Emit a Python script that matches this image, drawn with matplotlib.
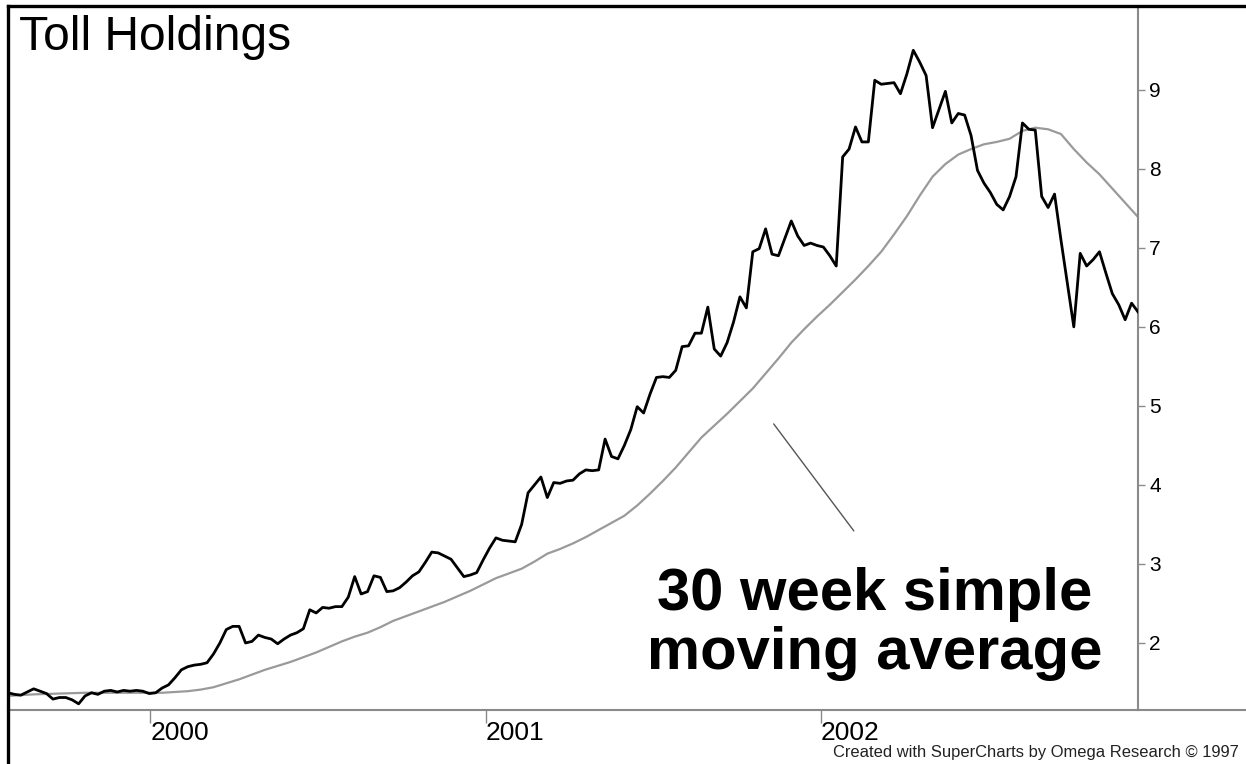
import matplotlib
matplotlib.use("Agg")
import matplotlib.pyplot as plt
import matplotlib.dates as mdates
from matplotlib.lines import Line2D
import pandas as pd

# ---------------- data ----------------
start_date = "1999-07-30"
price = [
    1.37, 1.35, 1.34, 1.38, 1.42, 1.39, 1.36, 1.29, 1.31, 1.31,
    1.28, 1.23, 1.33, 1.37, 1.35, 1.39, 1.40, 1.38, 1.40, 1.39,
    1.40, 1.39, 1.36, 1.37, 1.43, 1.47, 1.56, 1.66, 1.70, 1.72,
    1.73, 1.75, 1.86, 2.00, 2.17, 2.21, 2.21, 2.00, 2.02, 2.10,
    2.07, 2.05, 1.99, 2.05, 2.10, 2.13, 2.18, 2.42, 2.38, 2.45,
    2.44, 2.46, 2.46, 2.58, 2.84, 2.62, 2.65, 2.85, 2.83, 2.65,
    2.66, 2.70, 2.77, 2.85, 2.90, 3.02, 3.15, 3.14, 3.10, 3.06,
    2.95, 2.84, 2.86, 2.89, 3.05, 3.20, 3.33, 3.30, 3.29, 3.28,
    3.50, 3.90, 4.00, 4.10, 3.84, 4.03, 4.02, 4.05, 4.06, 4.14,
    4.19, 4.18, 4.19, 4.58, 4.36, 4.33, 4.50, 4.70, 4.99, 4.91,
    5.15, 5.36, 5.37, 5.36, 5.45, 5.75, 5.76, 5.92, 5.92, 6.25,
    5.72, 5.63, 5.80, 6.06, 6.38, 6.24, 6.95, 6.99, 7.24, 6.92,
    6.90, 7.12, 7.34, 7.15, 7.03, 7.06, 7.03, 7.01, 6.90, 6.77,
    8.15, 8.25, 8.53, 8.34, 8.34, 9.12, 9.07, 9.08, 9.09, 8.95,
    9.20, 9.50, 9.35, 9.18, 8.52, 8.75, 8.98, 8.58, 8.70, 8.68,
    8.42, 7.98, 7.82, 7.70, 7.55, 7.48, 7.65, 7.90, 8.58, 8.50,
    8.49, 7.65, 7.51, 7.68, 7.10, 6.55, 6.00, 6.93, 6.77, 6.85,
    6.95, 6.68, 6.42, 6.28, 6.09, 6.30, 6.19,
]
# 30-week simple moving average, read every 2 weeks
ma30 = [
    1.33, 1.34, 1.35, 1.355, 1.36, 1.365, 1.37, 1.37, 1.37, 1.37,
    1.37, 1.37, 1.37, 1.38, 1.39, 1.41, 1.44, 1.49, 1.54, 1.60,
    1.66, 1.71, 1.76, 1.82, 1.88, 1.95, 2.02, 2.08, 2.13, 2.20,
    2.28, 2.34, 2.40, 2.46, 2.52, 2.59, 2.66, 2.74, 2.82, 2.88,
    2.94, 3.03, 3.13, 3.19, 3.26, 3.34, 3.43, 3.52, 3.61, 3.74,
    3.89, 4.05, 4.22, 4.41, 4.60, 4.75, 4.90, 5.06, 5.22, 5.41,
    5.60, 5.80, 5.97, 6.13, 6.28, 6.44, 6.60, 6.77, 6.95, 7.17,
    7.40, 7.66, 7.90, 8.06, 8.18, 8.25, 8.31, 8.34, 8.38, 8.48,
    8.52, 8.50, 8.44, 8.25, 8.08, 7.93, 7.75, 7.57, 7.39,
]
year_ticks = ["2000-01-01", "2001-01-01", "2002-01-01"]
year_labels = ["2000", "2001", "2002"]
y_ticks = [2, 3, 4, 5, 6, 7, 8, 9]
title = "Toll Holdings"
note = "30 week simple\nmoving average"
footer = "Created with SuperCharts by Omega Research \u00a9 1997"

price_dates = pd.date_range(start_date, periods=len(price), freq="7D")
ma_dates = pd.date_range(start_date, periods=len(ma30), freq="14D")

# ---------------- figure ----------------
W, H = 1246, 764
fig = plt.figure(figsize=(W / 100, H / 100), dpi=100)
fig.patch.set_facecolor("white")

ax_l, ax_r, ax_t, ax_b = 8, 1138, 6, 710
ax = fig.add_axes([ax_l / W, 1 - ax_b / H, (ax_r - ax_l) / W, (ax_b - ax_t) / H])

ax.plot(ma_dates, ma30, color="#9a9a9a", lw=1.6, solid_joinstyle="round", zorder=2)
ax.plot(price_dates, price, color="black", lw=2.0, solid_joinstyle="round", zorder=3)

ax.set_xlim(price_dates[0], price_dates[-1])
ax.set_ylim(1.152, 10.06)

for s in ["top", "left"]:
    ax.spines[s].set_visible(False)
for s in ["right", "bottom"]:
    ax.spines[s].set_color("#8a8a8a")
    ax.spines[s].set_linewidth(1.5)

ax.yaxis.tick_right()
ax.set_yticks(y_ticks)
ax.set_yticklabels([str(v) for v in y_ticks])
ax.tick_params(axis="y", which="major", direction="out", length=5, width=1,
               color="#8a8a8a", pad=3, labelsize=15, labelcolor="black")

xt = pd.to_datetime(year_ticks)
ax.set_xticks(mdates.date2num(xt))
ax.set_xticklabels(year_labels, ha="left")
ax.tick_params(axis="x", which="major", direction="out", length=9, width=1,
               color="#8a8a8a", pad=-1, labelsize=19, labelcolor="black")
ax.xaxis.set_minor_locator(plt.NullLocator())

# annotation pointer
ax.annotate("", xy=(price_dates[119], 4.80), xytext=(price_dates[132], 3.39),
            arrowprops=dict(arrowstyle="-", color="#555555", lw=1.0))

fig.text(875 / W, 1 - 624 / H, note, ha="center", va="center",
         multialignment="center", fontsize=43, fontweight="bold",
         family=["Liberation Sans", "DejaVu Sans"], linespacing=1.08)

fig.text(19 / W, 1 - 38 / H, title, ha="left", va="center", fontsize=34.5,
         family=["Liberation Sans", "DejaVu Sans"])

fig.text(833 / W, 1 - 752 / H, footer, ha="left", va="center", fontsize=11.9,
         family=["Liberation Sans Narrow", "Liberation Sans", "DejaVu Sans"],
         color="#222222")

# outer frame lines (black left/top) and bottom gray extension
fig.add_artist(Line2D([ax_l / W, 1], [1 - ax_t / H, 1 - ax_t / H],
                      transform=fig.transFigure, color="black", lw=2.4))
fig.add_artist(Line2D([ax_l / W, ax_l / W], [0, 1 - ax_t / H],
                      transform=fig.transFigure, color="black", lw=2.4))
fig.add_artist(Line2D([ax_r / W, 1], [1 - ax_b / H, 1 - ax_b / H],
                      transform=fig.transFigure, color="#8a8a8a", lw=1.5))

for lab in ax.get_yticklabels() + ax.get_xticklabels():
    lab.set_family(["Liberation Sans", "DejaVu Sans"])

fig.savefig("out.png", dpi=100, facecolor="white")
